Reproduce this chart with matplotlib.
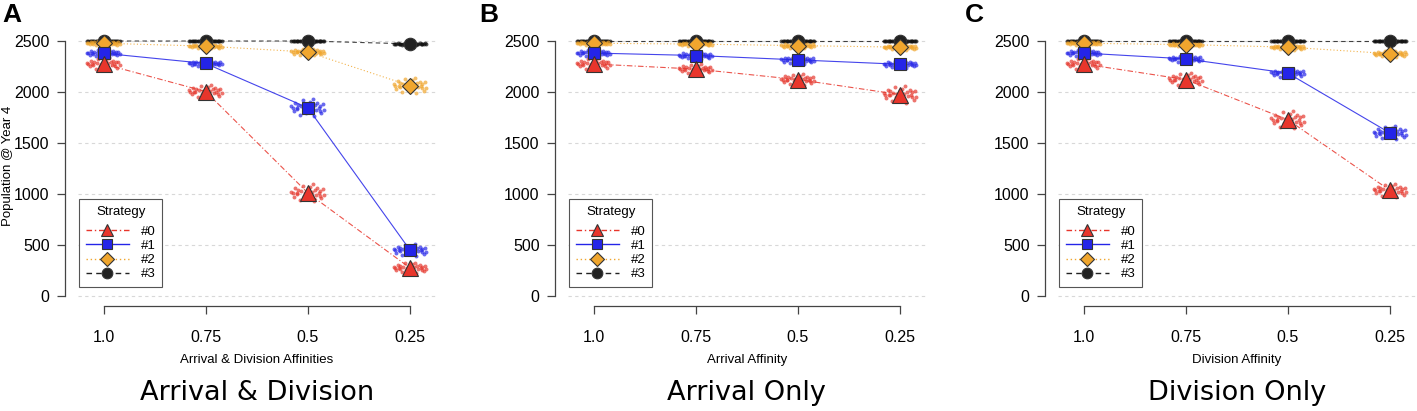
import matplotlib
matplotlib.use("Agg")
import matplotlib.pyplot as plt
from matplotlib.lines import Line2D
import numpy as np

# affinity levels on the x axis
x_labels = ["1.0", "0.75", "0.5", "0.25"]
strategies = ["#0", "#1", "#2", "#3"]

panel_letters = ["A", "B", "C"]
panel_xlabels = ["Arrival & Division Affinities", "Arrival Affinity", "Division Affinity"]
panel_titles = ["Arrival & Division", "Arrival Only", "Division Only"]

# mean population @ year 4, one list per strategy
pop_A = [
    [2275, 2005, 1010, 275],
    [2380, 2280, 1845, 450],
    [2478, 2450, 2392, 2062],
    [2500, 2500, 2500, 2472],
]
pop_B = [
    [2275, 2225, 2122, 1975],
    [2382, 2358, 2315, 2272],
    [2478, 2470, 2455, 2440],
    [2500, 2500, 2500, 2500],
]
pop_C = [
    [2275, 2122, 1728, 1035],
    [2382, 2325, 2185, 1598],
    [2478, 2465, 2440, 2376],
    [2500, 2500, 2500, 2500],
]

# rough spread of the individual runs around each mean
spread_A = [
    [30, 35, 45, 28],
    [18, 14, 45, 30],
    [12, 12, 18, 40],
    [3, 3, 3, 5],
]
spread_B = [
    [30, 25, 30, 45],
    [18, 18, 20, 18],
    [10, 10, 14, 14],
    [3, 3, 3, 3],
]
spread_C = [
    [30, 35, 45, 35],
    [18, 18, 22, 35],
    [10, 10, 14, 16],
    [3, 3, 3, 3],
]

# scatter pattern of the individual runs (horizontal, vertical)
run_dx = [-0.95, -0.8, -0.72, -0.6, -0.55, -0.45, -0.38, -0.3, -0.22, -0.15,
          -0.08, 0.0, 0.05, 0.12, 0.18, 0.25, 0.33, 0.4, 0.47, 0.55,
          0.62, 0.7, 0.78, 0.85, 0.92, -0.65, 0.3, -0.1, 0.68, -0.88]
run_dz = [0.3, -0.8, 1.1, -0.2, 0.7, -1.5, 0.4, 1.6, -0.6, 0.1,
          -1.1, 0.9, -0.3, 1.3, -0.9, 0.2, -1.8, 0.6, -0.4, 1.0,
          -0.1, 0.5, -1.2, 0.8, -0.5, -0.1, 1.9, -0.7, -0.6, 0.0]

colors = ["#e8352b", "#2424e8", "#f0a62e", "#222222"]
dot_colors = ["#e63a30", "#2a2ae8", "#f0a62e", "#111111"]
linestyles = [(0, (5, 2, 1, 2)), "-", (0, (1, 2)), (0, (4, 3))]
legend_ls = [(0, (4, 2, 1, 2)), "-", (0, (1, 2)), (0, (4, 3))]
markers = ["^", "s", "D", "o"]
msizes = [11, 8.5, 8, 9]

plt.rcParams["font.family"] = ["Liberation Sans", "DejaVu Sans"]

fig = plt.figure(figsize=(14.17, 4.11), dpi=100)

panels = [(pop_A, spread_A), (pop_B, spread_B), (pop_C, spread_C)]
lefts = [0.0547, 0.4005, 0.7463]
letter_x = [2, 479, 965]
xs = np.arange(1, 5)

for p, (pop, spread) in enumerate(panels):
    ax = fig.add_axes([lefts[p], 0.2555, 0.2534, 0.6715])
    ax.set_xlim(0.745, 4.26)
    ax.set_ylim(-98, 2608)

    for g in range(0, 2501, 500):
        ax.axhline(g, color="#d8d8d8", lw=0.8, ls=(0, (3, 3)), zorder=0)

    for s in [3, 2, 1, 0]:
        ax.plot(xs, pop[s], color=colors[s], ls=linestyles[s], lw=0.8,
                alpha=0.85, zorder=2 + (3 - s) * 0.1)
        for i in range(4):
            px = xs[i] + np.array(run_dx) * 0.17
            py = pop[s][i] + np.array(run_dz) * spread[s][i]
            ax.scatter(px, py, s=8, color=dot_colors[s], alpha=0.7,
                       linewidths=0, zorder=3)
        ax.plot(xs, pop[s], ls="none", marker=markers[s], ms=msizes[s],
                mfc=colors[s], mec="#333333", mew=0.8, zorder=5 + (3 - s) * 0.1)

    for side in ["top", "right"]:
        ax.spines[side].set_visible(False)
    ax.spines["left"].set_position(("outward", 9))
    ax.spines["left"].set_bounds(0, 2500)
    ax.spines["bottom"].set_bounds(1, 4)
    for side in ["left", "bottom"]:
        ax.spines[side].set_color("#444444")
        ax.spines[side].set_linewidth(0.9)

    ax.set_yticks(range(0, 2501, 500))
    ax.set_xticks(xs)
    ax.set_xticklabels(x_labels)
    ax.tick_params(axis="both", labelsize=11.5, length=6, width=0.9,
                   color="#444444", pad=5)
    ax.tick_params(axis="x", pad=11)
    ax.set_xlabel(panel_xlabels[p], fontsize=9.5, labelpad=7)

    handles = [Line2D([0], [0], color=colors[s], ls=legend_ls[s], lw=1,
                      marker=markers[s], ms=msizes[s] * 0.85, mfc=colors[s],
                      mec="#333333", mew=0.8) for s in range(4)]
    leg = ax.legend(handles, strategies, title="Strategy", loc="lower left",
                    bbox_to_anchor=(0.004, 0.069), borderaxespad=0,
                    fontsize=9.5, title_fontsize=9.5, fancybox=False,
                    framealpha=1, edgecolor="#555555", handlelength=3.3,
                    labelspacing=0.15, borderpad=0.5, handletextpad=0.9)
    leg.get_frame().set_linewidth(0.8)
    leg._legend_box.sep = 5.5

    fig.text(letter_x[p] / 1417, 1 - 14.5 / 411, panel_letters[p],
             fontsize=19, fontweight="bold", va="center", ha="left")

    fig.text(lefts[p] + 0.2534 * (2.5 - 0.745) / (4.26 - 0.745), 0.044,
             panel_titles[p], fontsize=19.5, ha="center", va="center",
             family="DejaVu Sans")

fig.text(8.5 / 1417, 1 - 166 / 411, "Population @ Year 4", fontsize=9.5,
         rotation=90, ha="center", va="center")

fig.savefig("out.png", dpi=100)
